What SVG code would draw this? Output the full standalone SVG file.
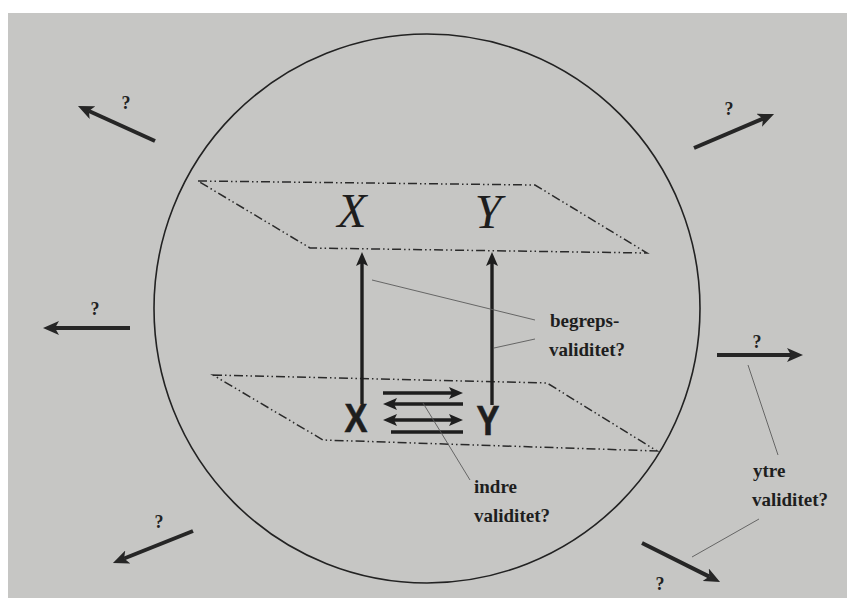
<svg xmlns="http://www.w3.org/2000/svg" width="847" height="598" viewBox="0 0 847 598">
  <style>
    .plane { fill: none; stroke: #2a2a2a; stroke-width: 1.5; stroke-dasharray: 9 3 1.5 3 1.5 3; }
    .thick { stroke: #1e1e1e; stroke-width: 3.4; fill: none; }
    .outer { stroke: #262626; stroke-width: 4; fill: none; marker-end: url(#ahBig); }
    .leader { stroke: #5a5a5a; stroke-width: 0.9; fill: none; }
    .lbl { font-family: "Liberation Serif", "Times New Roman", serif; font-weight: bold; font-size: 19px; fill: #1e1e1e; }
    .q { font-family: "Liberation Serif", "Times New Roman", serif; font-weight: bold; font-size: 18px; fill: #222; text-anchor: middle; }
    .it { font-family: "Liberation Serif", "Times New Roman", serif; font-style: italic; font-size: 48px; fill: #1e1e1e; text-anchor: middle; }
    .bs { font-family: "Liberation Sans Narrow", "Liberation Sans", sans-serif; font-weight: bold; font-size: 40px; fill: #1e1e1e; stroke: #1e1e1e; stroke-width: 0.6; text-anchor: middle; }
  </style>
  <defs>
    <marker id="ah" markerUnits="userSpaceOnUse" markerWidth="14" markerHeight="12" refX="3" refY="6" orient="auto-start-reverse">
      <path d="M0,0 L14,6 L0,12 L3,6 Z" fill="#1e1e1e"/>
    </marker>
    <marker id="ahBig" markerUnits="userSpaceOnUse" markerWidth="16" markerHeight="14" refX="4" refY="7" orient="auto">
      <path d="M0,0 L16,7 L0,14 L4,7 Z" fill="#262626"/>
    </marker>
  </defs>

  <!-- page background -->
  <rect x="0" y="0" width="847" height="598" fill="#ffffff"/>
  <rect x="8" y="13" width="839" height="585" fill="#c6c6c4"/>

  <!-- enclosing circle -->
  <g id="circle">
    <ellipse cx="427" cy="308.5" rx="273" ry="274.5" fill="none" stroke="#222" stroke-width="1.6"/>
  </g>

  <!-- top plane (theoretical level) -->
  <g id="plane-top">
    <path class="plane" d="M198,181 L535,185 L647,253 L310,248 Z"/>
    <text class="it" x="352" y="227">X</text>
    <text class="it" x="488" y="228">Y</text>
  </g>

  <!-- bottom plane (empirical level) -->
  <g id="plane-bottom">
    <path class="plane" d="M213,375 L547,383 L657,451 L323,440 Z"/>
    <text class="bs" transform="translate(356,432) scale(0.86,1.02)">X</text>
    <text class="bs" transform="translate(488,435) scale(0.86,1.05)">Y</text>
  </g>

  <!-- connectors -->
  <g id="connectors">
    <!-- vertical arrows -->
    <line class="thick" x1="362" y1="404" x2="362" y2="263" marker-end="url(#ah)"/>
    <line class="thick" x1="492" y1="405" x2="492" y2="263" marker-end="url(#ah)"/>
    <!-- horizontal arrows between X and Y -->
    <line class="thick" x1="383" y1="393" x2="452" y2="393" marker-end="url(#ah)"/>
    <line class="thick" x1="463" y1="404" x2="394" y2="404" marker-end="url(#ah)"/>
    <line class="thick" x1="394" y1="420" x2="452" y2="420" marker-start="url(#ah)" marker-end="url(#ah)"/>
    <line class="thick" x1="391" y1="432" x2="463" y2="432"/>
    <!-- outward arrows -->
    <line class="outer" x1="155" y1="141" x2="88.9" y2="111"/>
    <line class="outer" x1="130" y1="328" x2="55" y2="328"/>
    <line class="outer" x1="193" y1="531" x2="124.1" y2="558.5"/>
    <line class="outer" x1="694" y1="148" x2="763" y2="118.7"/>
    <line class="outer" x1="717" y1="355" x2="791" y2="355"/>
    <line class="outer" x1="642" y1="543" x2="709.3" y2="576.6"/>
    <!-- leader lines -->
    <line class="leader" x1="372" y1="280" x2="535" y2="320"/>
    <line class="leader" x1="494" y1="348" x2="535" y2="339"/>
    <line class="leader" x1="423" y1="403" x2="470" y2="480"/>
    <line class="leader" x1="748" y1="365" x2="778" y2="455"/>
    <line class="leader" x1="759" y1="519" x2="692" y2="557"/>
  </g>

  <!-- labels -->
  <g id="label-begreps">
    <text class="lbl" x="550" y="327">begreps-</text>
    <text class="lbl" x="549" y="356">validitet?</text>
  </g>
  <g id="label-indre">
    <text class="lbl" x="474" y="493">indre</text>
    <text class="lbl" x="474" y="522">validitet?</text>
  </g>
  <g id="label-ytre">
    <text class="lbl" x="753" y="477">ytre</text>
    <text class="lbl" x="752" y="506">validitet?</text>
  </g>

  <!-- question marks -->
  <g id="questions">
    <text class="q" x="126" y="109">?</text>
    <text class="q" x="95" y="315">?</text>
    <text class="q" x="159" y="528">?</text>
    <text class="q" x="729" y="115">?</text>
    <text class="q" x="757" y="348">?</text>
    <text class="q" x="660" y="590">?</text>
  </g>
</svg>
